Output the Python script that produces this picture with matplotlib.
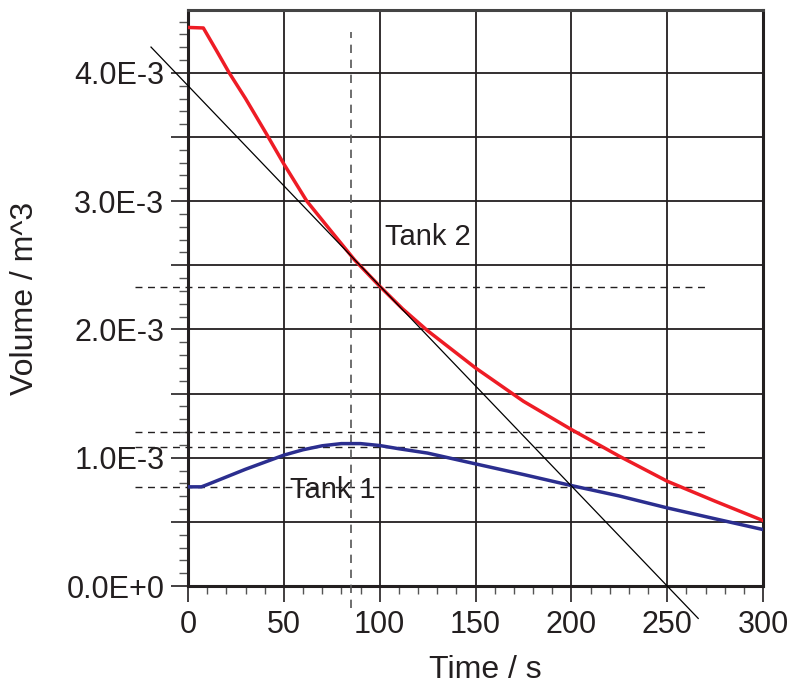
import matplotlib
matplotlib.use("Agg")
import matplotlib.pyplot as plt
from matplotlib.ticker import MultipleLocator, FuncFormatter

plt.rcParams['font.family'] = ['Liberation Sans', 'DejaVu Sans']

# Tank 2 (red), volume in 1E-3 m^3
t2 = [0, 8, 15, 21.5, 30, 40.7, 50, 62, 75, 87, 100, 112, 125, 150, 175, 200, 225, 250, 275, 300]
v2 = [4.354, 4.35, 4.17, 4.0, 3.80, 3.53, 3.29, 3.0, 2.76, 2.54, 2.337, 2.16, 1.99, 1.70, 1.44,
      1.22, 1.012, 0.817, 0.661, 0.51]

# Tank 1 (blue)
t1 = [0, 7, 10, 20, 30, 40, 50, 60, 70, 80, 90, 100, 110, 125, 150, 175, 200, 225, 250, 275, 300]
v1 = [0.773, 0.773, 0.79, 0.85, 0.91, 0.965, 1.02, 1.062, 1.093, 1.11, 1.11, 1.095,
      1.07, 1.036, 0.952, 0.869, 0.783, 0.702, 0.609, 0.524, 0.44]

# tangent to tank 2 at t = 85 s
tan_t = [-19.3, 266.2]
tan_v0 = 3.9      # value at t = 0 (E-3)
tan_root = 250.0  # t where tangent hits zero

# helper dashed lines
hlines = [2.333, 1.203, 1.081, 0.774]
hline_t = [-27.7, 272]
vline_t = 85
vline_v = [-0.17, 4.32]

scale = 1e-3
ink = '#231f20'

fig = plt.figure(figsize=(7.93, 6.86), dpi=100)
ax = fig.add_axes([188 / 793, 1 - 586 / 686, 575 / 793, 576 / 686])

ax.plot(t2, [v * scale for v in v2], color='#ee1c25', lw=2.5, zorder=4)
ax.plot(t1, [v * scale for v in v1], color='#2b2e8f', lw=2.5, zorder=4)

tan_y = [(tan_v0 - tan_v0 / tan_root * t) * scale for t in tan_t]
ax.plot(tan_t, tan_y, color='black', lw=0.9, clip_on=False, zorder=5)

for h in hlines:
    ax.plot(hline_t, [h * scale, h * scale], color=ink, lw=1.0, ls=(0, (5, 4)),
            clip_on=False, zorder=3)
ax.plot([vline_t, vline_t], [v * scale for v in vline_v], color='#555555', lw=1.2,
        ls=(0, (5, 4)), clip_on=False, zorder=3)

ax.text(102.8, 2.72e-3, 'Tank 2', fontsize=21, color=ink, va='center', ha='left')
ax.text(53.2, 0.748e-3, 'Tank 1', fontsize=21, color=ink, va='center', ha='left')

ax.set_xlim(0, 300)
ax.set_ylim(0, 4.49e-3)

ax.xaxis.set_major_locator(MultipleLocator(50))
ax.xaxis.set_minor_locator(MultipleLocator(10))
ax.yaxis.set_major_locator(MultipleLocator(0.5e-3))
ax.yaxis.set_minor_locator(MultipleLocator(0.1e-3))


def yfmt(v, pos):
    k = round(v / 1e-3, 3)
    if abs(k - round(k)) > 1e-6:
        return ''
    if abs(k) < 1e-9:
        return '0.0E+0'
    return '%.1fE-3' % k


ax.yaxis.set_major_formatter(FuncFormatter(yfmt))

ax.grid(True, which='major', color=ink, lw=1.3)
ax.set_axisbelow(True)

ax.tick_params(axis='y', which='major', length=12, width=1.2, pad=5, labelsize=22,
               colors=ink, direction='out')
ax.tick_params(axis='y', which='minor', length=6.5, width=1.0, color='#555555')
ax.tick_params(axis='x', which='major', length=11.5, width=1.2, pad=6, labelsize=22,
               colors=ink, direction='out')
ax.tick_params(axis='x', which='minor', length=5.5, width=1.0, color='#555555')

for side in ['left', 'bottom', 'top', 'right']:
    ax.spines[side].set_linewidth(2.2)
    ax.spines[side].set_color(ink)
ax.spines['top'].set_color('#444444')

ax.set_xlabel('Time / s', fontsize=23, color=ink)
ax.set_ylabel('Volume / m^3', fontsize=23, color=ink)
ax.xaxis.set_label_coords(0.5165, -0.12)
ax.yaxis.set_label_coords(-0.258, 0.5)

fig.savefig('out.png', dpi=100)
